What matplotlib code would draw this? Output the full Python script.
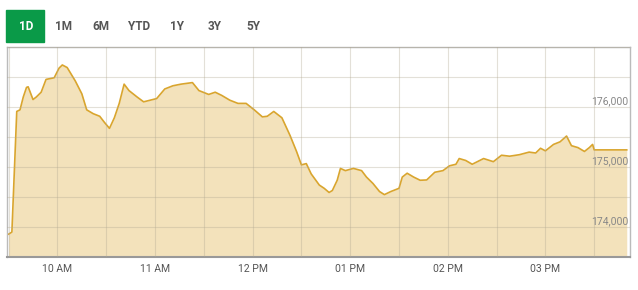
import matplotlib.pyplot as plt
from matplotlib.patches import Rectangle

# Intraday index values (time, level)
times = ['09:30', '09:32', '09:35', '09:37', '09:39', '09:41', '09:42', '09:45', '09:47',
         '09:50', '09:53', '09:58', '10:01', '10:03', '10:06', '10:11', '10:15', '10:18',
         '10:22', '10:26', '10:29', '10:32', '10:35', '10:38', '10:41', '10:44', '10:49',
         '10:53', '10:57', '11:01', '11:06', '11:11', '11:16', '11:23', '11:27', '11:33',
         '11:37', '11:41', '11:46', '11:51', '11:56', '12:01', '12:06', '12:09', '12:13',
         '12:18', '12:23', '12:27', '12:30', '12:33', '12:36', '12:41', '12:44', '12:47',
         '12:49', '12:52', '12:54', '12:57', '13:02', '13:07', '13:10', '13:14', '13:18',
         '13:21', '13:25', '13:30', '13:32', '13:35', '13:39', '13:43', '13:47', '13:52',
         '13:57', '14:01', '14:05', '14:07', '14:11', '14:15', '14:22', '14:28', '14:33',
         '14:38', '14:44', '14:50', '14:54', '14:57', '15:00', '15:05', '15:09', '15:13',
         '15:16', '15:20', '15:24', '15:27', '15:29', '15:30', '15:50']
values = [173880, 173914, 175920, 175947, 176160, 176320, 176330, 176118, 176160,
          176240, 176453, 176480, 176640, 176693, 176650, 176426, 176214, 175947,
          175883, 175840, 175735, 175639, 175815, 176054, 176374, 176267, 176160,
          176080, 176107, 176134, 176294, 176347, 176374, 176400, 176267, 176203,
          176240, 176187, 176107, 176054, 176054, 175947, 175830, 175840, 175920,
          175815, 175521, 175255, 175032, 175053, 174882, 174696, 174642, 174573,
          174605, 174776, 174973, 174936, 174973, 174936, 174829, 174722, 174589,
          174537, 174589, 174642, 174829, 174893, 174829, 174776, 174781, 174909,
          174936, 175016, 175042, 175137, 175105, 175042, 175137, 175085, 175192,
          175176, 175201, 175244, 175229, 175308, 175265, 175372, 175415, 175511,
          175351, 175319, 175255, 175319, 175372, 175281, 175281]

tick_labels = ['10 AM', '11 AM', '12 PM', '01 PM', '02 PM', '03 PM']
y_labels = [174000, 175000, 176000]
tabs = ['1D', '1M', '6M', 'YTD', '1Y', '3Y', '5Y']

narrow = ['Liberation Sans Narrow', 'Roboto', 'DejaVu Sans']


def to_min(s):
    h, m = s.split(':')
    return int(h) * 60 + int(m)


x = [to_min(t) for t in times]

fig = plt.figure(figsize=(6.38, 2.9), dpi=100)
ax = fig.add_axes([7 / 638, 1 - 257 / 290, 623 / 638, 210.5 / 290])

line_c = '#d9a52e'
fill_c = '#f3e2bb'
ax.fill_between(x, values, 173500, color=fill_c, lw=0)
ax.plot(x, values, color=line_c, lw=1.2)

ax.set_xlim(to_min('09:29'), to_min('15:52'))
ax.set_ylim(173600, 176970)

grid_x = list(range(to_min('09:30'), to_min('15:31'), 30))
ax.set_xticks(grid_x, minor=True)
ax.set_xticks(range(to_min('10:00'), to_min('15:01'), 60))
ax.set_xticklabels(tick_labels, family=narrow)
ax.set_yticks(range(173500, 177001, 500))
ax.set_yticklabels([])
ax.grid(True, which='both', color='#b0a890', lw=0.8, alpha=0.35)
ax.set_axisbelow(False)
ax.tick_params(axis='both', which='both', length=0)
ax.tick_params(axis='x', labelsize=7.5, colors='#555555', pad=5)

for s in ax.spines.values():
    s.set_color('#bbbbbb')
    s.set_linewidth(1)
ax.spines['bottom'].set_color('#999999')
ax.spines['bottom'].set_linewidth(1.5)

for v in y_labels:
    ax.text(0.997, v + 45, f'{v:,}', transform=ax.get_yaxis_transform(),
            ha='right', va='baseline', fontsize=7.5, color='#888888', family=narrow)

# period tabs
fig.patches.append(Rectangle((6 / 638, 1 - 42 / 290), 38 / 638, 32 / 290,
                             transform=fig.transFigure, color='#0a9a48'))
tab_x = [26, 63, 101, 139, 177, 215, 253]
for lbl, tx in zip(tabs, tab_x):
    fig.text(tx / 638, 1 - 26.5 / 290, lbl, ha='center', va='center', fontsize=8.5,
             fontweight='bold', family=narrow,
             color='white' if lbl == '1D' else '#555555')

fig.savefig('out.png', dpi=100)
